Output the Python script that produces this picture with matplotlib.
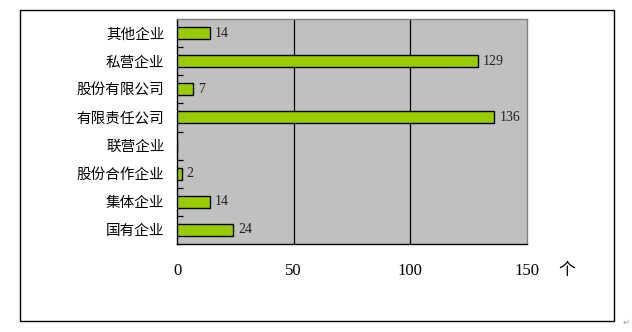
import matplotlib
matplotlib.use("Agg")
import matplotlib.pyplot as plt
from matplotlib.patches import Rectangle
import numpy as np

categories = ["其他企业", "私营企业", "股份有限公司", "有限责任公司", "联营企业", "股份合作企业", "集体企业", "国有企业"]
values = [14, 129, 7, 136, 0, 2, 14, 24]
xticks = [0, 50, 100, 150]
unit = "个"

cjk = ["Noto Sans CJK SC", "DejaVu Sans"]
serif = ["Liberation Serif", "DejaVu Serif"]

fig = plt.figure(figsize=(6.32, 3.32), dpi=100)
fig.patch.set_facecolor("white")

# outer frame
fig.patches.append(Rectangle((20/632, 1-321/332), (614-20)/632, (321-10)/332,
                             transform=fig.transFigure, fill=False, edgecolor="black", linewidth=1.0))

ax = fig.add_axes([177/632, 1-244/332, (527-177)/632, (244-19)/332])
ax.set_facecolor("#C0C0C0")

y = np.arange(len(categories))
ax.barh(y, values, height=0.43, color="#99CC00", edgecolor="black", linewidth=1.0, zorder=3)
ax.set_xlim(0, 150)
ax.set_ylim(len(categories) - 0.5, -0.5)

for v in (50, 100):
    ax.axvline(v, color="black", linewidth=0.9, zorder=2)

ax.set_yticks(y)
ax.set_yticklabels(categories, family=cjk, fontsize=10.5)
ax.tick_params(axis="y", which="major", length=0, pad=9)
ax.set_yticks(np.arange(len(categories) - 1) + 0.5, minor=True)
ax.tick_params(axis="y", which="minor", direction="in", length=4, width=0.9, color="black")

ax.set_xticks(xticks)
ax.set_xticklabels([str(t) for t in xticks], family=serif, fontsize=12)
ax.tick_params(axis="x", length=0, pad=14)

for s in ("left", "bottom"):
    ax.spines[s].set_color("black")
    ax.spines[s].set_linewidth(1.0)
for s in ("top", "right"):
    ax.spines[s].set_color("#808080")
    ax.spines[s].set_linewidth(1.0)

for yi, v in zip(y, values):
    if v > 0:
        ax.text(v + 2.2, yi, str(v), va="center", ha="left", fontsize=10, family=serif, color="#222222", zorder=4)

fig.text(567/632, 1-271/332, unit, family=cjk, fontsize=12, ha="center", va="center")
fig.text(626/632, 1-322/332, "↵", family=["DejaVu Sans"], fontsize=6, color="#999999", ha="center", va="center")

fig.savefig("out.png", dpi=100)
